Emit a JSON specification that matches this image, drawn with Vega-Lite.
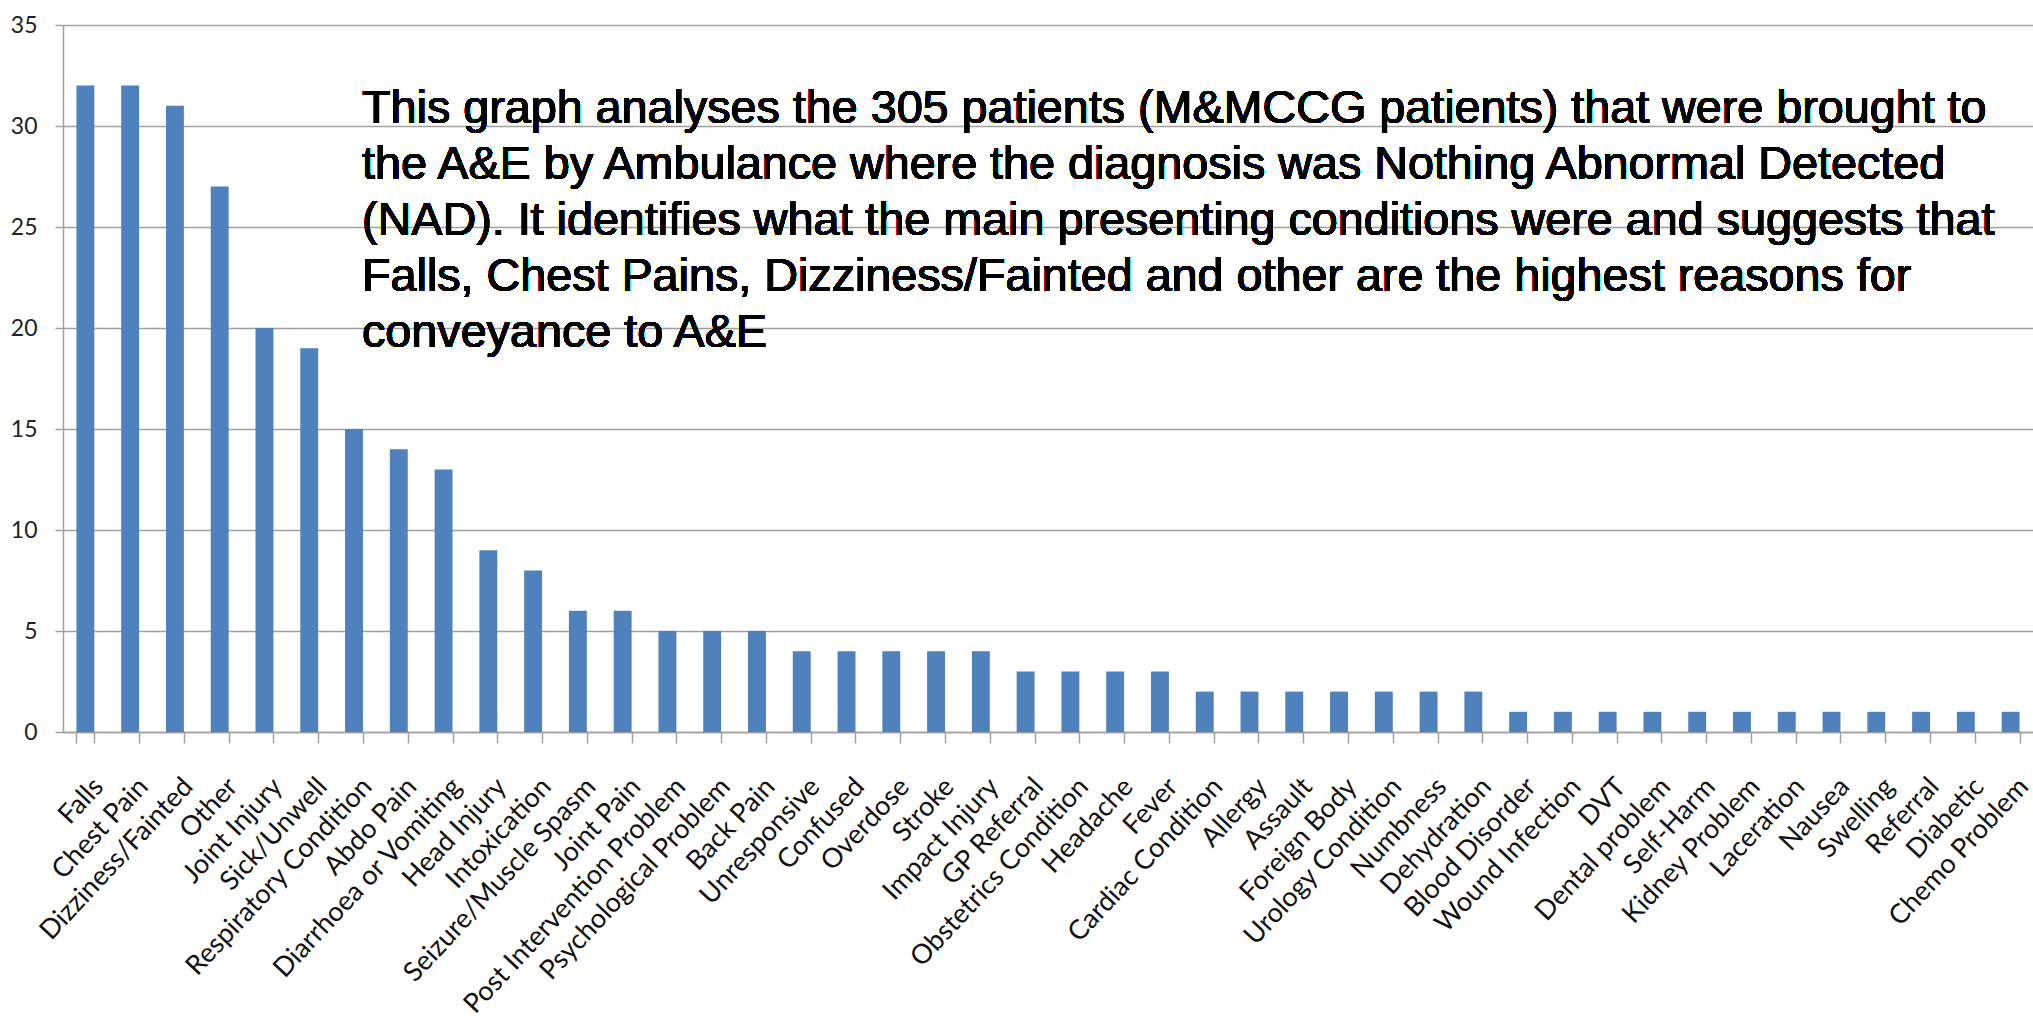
{
  "$schema": "https://vega.github.io/schema/vega-lite/v6.json",
  "width": 1970,
  "height": 707,
  "autosize": {"type": "none"},
  "padding": {"left": 63, "top": 25, "right": 0, "bottom": 286},
  "background": "white",
  "config": {"view": {"stroke": null}},
  "data": {
    "values": [
      {"condition": "Falls", "count": 32},
      {"condition": "Chest Pain", "count": 32},
      {"condition": "Dizziness/Fainted", "count": 31},
      {"condition": "Other", "count": 27},
      {"condition": "Joint Injury", "count": 20},
      {"condition": "Sick/Unwell", "count": 19},
      {"condition": "Respiratory Condition", "count": 15},
      {"condition": "Abdo Pain", "count": 14},
      {"condition": "Diarrhoea or Vomiting", "count": 13},
      {"condition": "Head Injury", "count": 9},
      {"condition": "Intoxication", "count": 8},
      {"condition": "Seizure/Muscle Spasm", "count": 6},
      {"condition": "Joint Pain", "count": 6},
      {"condition": "Post Intervention Problem", "count": 5},
      {"condition": "Psychological Problem", "count": 5},
      {"condition": "Back Pain", "count": 5},
      {"condition": "Unresponsive", "count": 4},
      {"condition": "Confused", "count": 4},
      {"condition": "Overdose", "count": 4},
      {"condition": "Stroke", "count": 4},
      {"condition": "Impact Injury", "count": 4},
      {"condition": "GP Referral", "count": 3},
      {"condition": "Obstetrics Condition", "count": 3},
      {"condition": "Headache", "count": 3},
      {"condition": "Fever", "count": 3},
      {"condition": "Cardiac Condition", "count": 2},
      {"condition": "Allergy", "count": 2},
      {"condition": "Assault", "count": 2},
      {"condition": "Foreign Body", "count": 2},
      {"condition": "Urology Condition", "count": 2},
      {"condition": "Numbness", "count": 2},
      {"condition": "Dehydration", "count": 2},
      {"condition": "Blood Disorder", "count": 1},
      {"condition": "Wound Infection", "count": 1},
      {"condition": "DVT", "count": 1},
      {"condition": "Dental problem", "count": 1},
      {"condition": "Self-Harm", "count": 1},
      {"condition": "Kidney Problem", "count": 1},
      {"condition": "Laceration", "count": 1},
      {"condition": "Nausea", "count": 1},
      {"condition": "Swelling", "count": 1},
      {"condition": "Referral", "count": 1},
      {"condition": "Diabetic", "count": 1},
      {"condition": "Chemo Problem", "count": 1}
    ]
  },
  "layer": [
    {
      "mark": {"type": "bar", "color": "#4f81bd"},
      "encoding": {
        "x": {
          "field": "condition",
          "type": "nominal",
          "sort": null,
          "scale": {"paddingInner": 0.6, "paddingOuter": 0.3},
          "axis": {
            "title": null,
            "labelAngle": -47,
            "labelAlign": "right",
            "labelBaseline": "middle",
            "labelFont": "Lato",
            "labelFontSize": 27,
            "labelColor": "#111111",
            "labelPadding": 39,
            "labelOffset": 13,
            "labelLimit": 0,
            "labelOverlap": false,
            "tickBand": "extent",
            "tickSize": 11,
            "tickColor": "#a0a0a0",
            "tickWidth": 1.5,
            "domainColor": "#a0a0a0",
            "domainWidth": 1.5
          }
        },
        "y": {
          "field": "count",
          "type": "quantitative",
          "scale": {"domain": [0, 35], "nice": false},
          "axis": {
            "title": null,
            "values": [0, 5, 10, 15, 20, 25, 30, 35],
            "grid": true,
            "gridColor": "#a0a0a0",
            "gridWidth": 1.5,
            "tickSize": 8,
            "tickColor": "#a0a0a0",
            "tickWidth": 1.5,
            "domainColor": "#a0a0a0",
            "domainWidth": 1.5,
            "labelFont": "Lato",
            "labelFontSize": 23,
            "labelColor": "#222222",
            "labelPadding": 18
          }
        }
      }
    },
    {
      "mark": {
        "type": "text",
        "align": "left",
        "baseline": "alphabetic",
        "font": "Liberation Sans",
        "fontSize": 46.7,
        "lineHeight": 56,
        "color": "#000000",
        "dx": 8,
        "text": [
          "This graph analyses the 305 patients (M&MCCG patients) that were brought to",
          "the A&E by Ambulance where the diagnosis was Nothing Abnormal Detected",
          "(NAD). It identifies what the main presenting conditions were and suggests that",
          "Falls, Chest Pains, Dizziness/Fainted and other are the highest reasons for",
          "conveyance to A&E"
        ]
      },
      "encoding": {
        "x": {"datum": "Respiratory Condition"},
        "y": {"datum": 30.15}
      }
    }
  ]
}
